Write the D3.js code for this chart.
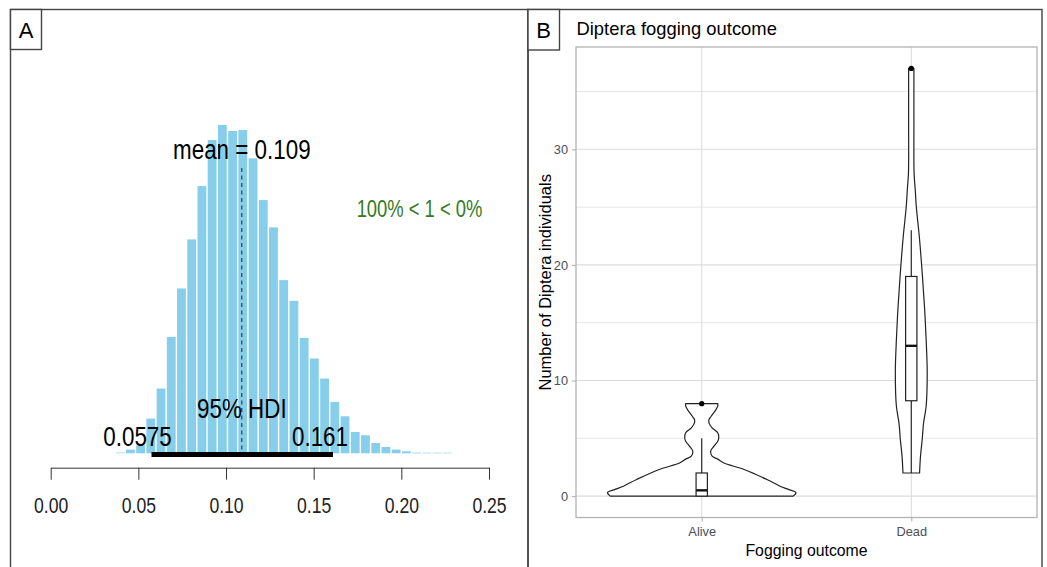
<!DOCTYPE html>
<html>
<head>
<meta charset="utf-8">
<script src="https://cdn.jsdelivr.net/npm/d3@7"></script>
<style>
    body { margin: 0; background: #fff; }
    svg { display: block; font-family: 'Liberation Sans', Arial, sans-serif; }
</style>
</head>
<body>
<div id="chart"></div>
<script>
'use strict';

// panel A: posterior of the parameter (histogram, counts per bin)
var binStart = 0.0367;
var binWidth = 0.00583;
var binCounts = [7, 37, 80, 347, 647, 1163, 1647, 2137, 2670, 3130, 3280, 3220, 3230, 2947,
    2530, 2257, 1730, 1523, 1153, 947, 747, 513, 370, 213, 180, 103, 63, 37, 20, 7, 5, 3, 2];
var postMean = 0.109;
var hdiLow = 0.0575;
var hdiHigh = 0.161;
var xTicksA = [0, 0.05, 0.10, 0.15, 0.20, 0.25];
var compareText = '100% < 1 < 0%';

// panel B: violins (density relative to the widest violin) + boxplot stats
var groups = ['Alive', 'Dead'];
var aliveValues = [0, 0.3, 0.58, 0.86, 1.16, 1.44, 2.3, 2.88, 3.2, 3.46, 3.9, 4.32, 4.75, 5.0, 5.48, 5.9, 6.34, 6.63, 6.91, 7.35, 7.78, 8.0];
var aliveDensity = [0.97, 1.0, 0.92, 0.83, 0.76, 0.69, 0.45, 0.23, 0.17, 0.11, 0.095, 0.13, 0.17, 0.18, 0.17, 0.11, 0.077, 0.077, 0.10, 0.14, 0.17, 0.17];
var deadValues = [2.0, 3.46, 4.9, 6.3, 7.8, 10.7, 13.5, 16.4, 19.3, 22.2, 25.07, 26.5, 27.9, 32, 36, 37];
var deadDensity = [0.088, 0.098, 0.116, 0.13, 0.158, 0.169, 0.158, 0.14, 0.116, 0.088, 0.053, 0.042, 0.03, 0.028, 0.028, 0.028];
// min, q1, median, q3, upper whisker, outliers
var aliveBox = { lo: 0, q1: 0, med: 0.5, q3: 2, hi: 5, out: [8] };
var deadBox = { lo: 2, q1: 8.25, med: 13, q3: 19, hi: 23, out: [37] };
var yTicksB = [0, 10, 20, 30];
var yMinorB = [5, 15, 25, 35];

var W = 1047, H = 567;
var svg = d3.select('#chart').append('svg')
    .attr('width', W)
    .attr('height', H);

// frames and panel letters
var frameColor = '#444';
svg.append('rect').attr('x', 10.5).attr('y', 9.5).attr('width', 517.5).attr('height', 570)
    .attr('fill', 'none').attr('stroke', frameColor).attr('stroke-width', 1.4);
svg.append('rect').attr('x', 528).attr('y', 9.5).attr('width', 514).attr('height', 570)
    .attr('fill', 'none').attr('stroke', frameColor).attr('stroke-width', 1.4);
svg.append('rect').attr('x', 10.5).attr('y', 9.5).attr('width', 31).attr('height', 40)
    .attr('fill', '#fff').attr('stroke', frameColor).attr('stroke-width', 1.4);
svg.append('rect').attr('x', 528).attr('y', 9.5).attr('width', 31.5).attr('height', 40.5)
    .attr('fill', '#fff').attr('stroke', frameColor).attr('stroke-width', 1.4);
svg.append('text').attr('x', 26).attr('y', 38).attr('text-anchor', 'middle')
    .style('font-size', '22px').text('A');
svg.append('text').attr('x', 543.5).attr('y', 38).attr('text-anchor', 'middle')
    .style('font-size', '22px').text('B');

// ---------------- panel A ----------------
var gA = svg.append('g');
var xA = d3.scaleLinear().domain([0, 0.25]).range([50.7, 489]);
var yA = d3.scaleLinear().domain([0, d3.max(binCounts)]).range([453.3, 125]);

// the base graphics text is narrower than it is tall
var squeeze = function (g, txt, x, y, size, color) {
    return g.append('text')
        .attr('transform', 'translate(' + x + ',' + y + ') scale(0.8,1)')
        .attr('text-anchor', 'middle')
        .style('font-size', size + 'px')
        .attr('fill', color || '#000')
        .text(txt);
};

var barGap = 1.4;
gA.selectAll('.bar')
    .data(binCounts)
    .enter()
    .append('rect')
    .attr('class', 'bar')
    .attr('x', function (d, i) { return xA(binStart + i * binWidth) + barGap / 2; })
    .attr('y', function (d) { return Math.min(yA(d), yA(0) - 0.6); })
    .attr('width', xA(binWidth) - xA(0) - barGap)
    .attr('height', function (d) { return Math.max(yA(0) - yA(d), 0.6); })
    .attr('fill', '#87CEEB');

// mean line
gA.append('line')
    .attr('x1', xA(postMean)).attr('x2', xA(postMean))
    .attr('y1', 168).attr('y2', yA(0))
    .attr('stroke', '#333').attr('stroke-width', 1.1)
    .attr('stroke-dasharray', '4,3.5');

// HDI bar
gA.append('line')
    .attr('x1', xA(hdiLow)).attr('x2', xA(hdiHigh))
    .attr('y1', 454.5).attr('y2', 454.5)
    .attr('stroke', '#000').attr('stroke-width', 5);

squeeze(gA, 'mean = ' + postMean, xA(postMean), 159, 28);
squeeze(gA, '95% HDI', xA(postMean), 418, 28);
squeeze(gA, String(hdiLow), xA(hdiLow) - 14, 446, 28);
squeeze(gA, String(hdiHigh), xA(hdiHigh) - 13, 446, 28);
squeeze(gA, compareText, 419.5, 217, 23, '#357a26');

var axisA = gA.append('g')
    .attr('transform', 'translate(0,467.7)')
    .call(d3.axisBottom(xA)
        .tickValues(xTicksA)
        .tickFormat(d3.format('.2f'))
        .tickSize(12)
        .tickSizeOuter(0));
axisA.select('.domain').attr('stroke', '#333');
axisA.selectAll('.tick line').attr('stroke', '#333');
axisA.selectAll('.tick text')
    .attr('y', 45.5)
    .attr('dy', 0)
    .attr('transform', 'scale(0.8,1)')
    .attr('fill', '#222')
    .style('font-size', '22px')
    .style('font-family', "'Liberation Sans', Arial, sans-serif");

// ---------------- panel B ----------------
var gB = svg.append('g');
var panel = { left: 576, right: 1037, top: 47, bottom: 517.5 };
var xB = d3.scalePoint().domain(groups).range([panel.left, panel.right]).padding(0.6);
var yB = d3.scaleLinear().domain([-1.85, 38.85]).range([panel.bottom, panel.top]);
var halfW = d3.scaleLinear().domain([0, 1]).range([0, 0.45 * xB.step()]);

gB.selectAll('.minor')
    .data(yMinorB)
    .enter()
    .append('line')
    .attr('class', 'minor')
    .attr('x1', panel.left).attr('x2', panel.right)
    .attr('y1', function (d) { return yB(d); })
    .attr('y2', function (d) { return yB(d); })
    .attr('stroke', '#e3e3e3').attr('stroke-width', 0.9);
gB.selectAll('.major')
    .data(yTicksB)
    .enter()
    .append('line')
    .attr('class', 'major')
    .attr('x1', panel.left).attr('x2', panel.right)
    .attr('y1', function (d) { return yB(d); })
    .attr('y2', function (d) { return yB(d); })
    .attr('stroke', '#dcdcdc').attr('stroke-width', 1.1);
gB.selectAll('.vgrid')
    .data(groups)
    .enter()
    .append('line')
    .attr('class', 'vgrid')
    .attr('x1', function (d) { return xB(d); })
    .attr('x2', function (d) { return xB(d); })
    .attr('y1', panel.top).attr('y2', panel.bottom)
    .attr('stroke', '#dcdcdc').attr('stroke-width', 1.1);

var violins = [
    { name: 'Alive', values: aliveValues, density: aliveDensity, box: aliveBox },
    { name: 'Dead', values: deadValues, density: deadDensity, box: deadBox }
];

var violinArea = function (v) {
    var cx = xB(v.name);
    return d3.area()
        .curve(d3.curveCatmullRom.alpha(0.5))
        .y(function (d, i) { return yB(v.values[i]); })
        .x0(function (d) { return cx - halfW(d); })
        .x1(function (d) { return cx + halfW(d); })(v.density);
};

gB.selectAll('.violin')
    .data(violins)
    .enter()
    .append('path')
    .attr('class', 'violin')
    .attr('d', violinArea)
    .attr('fill', '#fff')
    .attr('stroke', '#222')
    .attr('stroke-width', 1.2);

var boxHalf = 0.027 * xB.step();
violins.forEach(function (v) {
    var cx = xB(v.name);
    var b = v.box;
    var g = gB.append('g');
    g.append('line')
        .attr('x1', cx).attr('x2', cx)
        .attr('y1', yB(b.q3)).attr('y2', yB(b.hi))
        .attr('stroke', '#222').attr('stroke-width', 1.2);
    g.append('line')
        .attr('x1', cx).attr('x2', cx)
        .attr('y1', yB(b.q1)).attr('y2', yB(b.lo))
        .attr('stroke', '#222').attr('stroke-width', 1.2);
    g.append('rect')
        .attr('x', cx - boxHalf).attr('width', 2 * boxHalf)
        .attr('y', yB(b.q3)).attr('height', yB(b.q1) - yB(b.q3))
        .attr('fill', '#fff').attr('stroke', '#222').attr('stroke-width', 1.2);
    g.append('line')
        .attr('x1', cx - boxHalf).attr('x2', cx + boxHalf)
        .attr('y1', yB(b.med)).attr('y2', yB(b.med))
        .attr('stroke', '#111').attr('stroke-width', 2.4);
    g.selectAll('circle')
        .data(b.out)
        .enter()
        .append('circle')
        .attr('cx', cx)
        .attr('cy', function (d) { return yB(d); })
        .attr('r', 2.6)
        .attr('fill', '#000');
});

// panel border
gB.append('rect')
    .attr('x', panel.left).attr('y', panel.top)
    .attr('width', panel.right - panel.left).attr('height', panel.bottom - panel.top)
    .attr('fill', 'none').attr('stroke', '#b3b3b3').attr('stroke-width', 1.3);

var axisYB = gB.append('g')
    .attr('transform', 'translate(' + panel.left + ',0)')
    .call(d3.axisLeft(yB).tickValues(yTicksB).tickSize(4).tickPadding(4));
axisYB.select('.domain').remove();
var axisXB = gB.append('g')
    .attr('transform', 'translate(0,' + panel.bottom + ')')
    .call(d3.axisBottom(xB).tickSize(4).tickPadding(5));
axisXB.select('.domain').remove();
gB.selectAll('.tick line').attr('stroke', '#b3b3b3').attr('stroke-width', 1.1);
gB.selectAll('.tick text')
    .attr('fill', '#4d4d5a')
    .style('font-size', '12.8px')
    .style('font-family', "'Liberation Sans', Arial, sans-serif");

gB.append('text')
    .attr('x', 576.5).attr('y', 35)
    .style('font-size', '18.4px')
    .text('Diptera fogging outcome');
gB.append('text')
    .attr('x', (panel.left + panel.right) / 2).attr('y', 556)
    .attr('text-anchor', 'middle')
    .style('font-size', '15.8px')
    .text('Fogging outcome');
gB.append('text')
    .attr('transform', 'translate(551,' + (panel.top + panel.bottom) / 2 + ') rotate(-90)')
    .attr('text-anchor', 'middle')
    .style('font-size', '16.5px')
    .text('Number of Diptera individuals');
</script>
</body>
</html>
